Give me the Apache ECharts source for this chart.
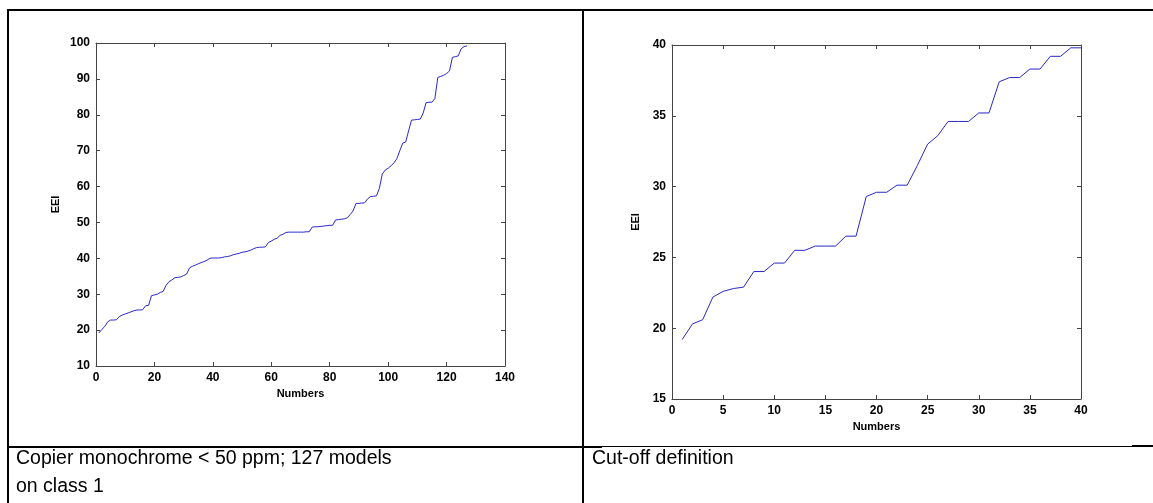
<!DOCTYPE html>
<html>
<head>
<meta charset="utf-8">
<title>EEI</title>
<script src="https://cdn.jsdelivr.net/npm/echarts@6/dist/echarts.min.js"></script>
<style>
  html, body { margin: 0; padding: 0; background: #fff; }
  #chartLable { width: 1153px; height: 503px; }
</style>
</head>
<body>
<div id="chartLable"></div>
<script>
// left panel: copier monochrome < 50 ppm, 127 models (EEI sorted)
var copierEEI = [
    19.2, 20.2, 21.0, 22.3, 22.8, 22.8, 22.9, 23.8, 24.2, 24.5,
    24.8, 25.1, 25.4, 25.6, 25.6, 25.7, 26.8, 26.9, 29.6, 29.8,
    30.0, 30.5, 30.8, 32.5, 33.5, 34.0, 34.6, 34.7, 34.8, 35.2,
    35.6, 37.3, 37.8, 38.1, 38.5, 38.8, 39.1, 39.5, 40.0, 40.1,
    40.1, 40.1, 40.2, 40.4, 40.5, 40.7, 41.0, 41.2, 41.4, 41.7,
    41.8, 42.0, 42.3, 42.7, 43.0, 43.1, 43.1, 43.2, 44.4, 44.8,
    45.3, 45.6, 46.4, 46.7, 47.2, 47.3, 47.3, 47.3, 47.3, 47.3,
    47.3, 47.4, 47.4, 48.7, 48.8, 48.8, 48.9, 49.0, 49.1, 49.2,
    49.2, 50.7, 50.8, 50.9, 51.0, 51.3, 52.2, 53.2, 55.3, 55.3,
    55.4, 55.5, 56.6, 57.2, 57.3, 57.4, 59.5, 63.5, 64.6, 65.1,
    65.8, 66.6, 67.8, 70.0, 72.1, 72.4, 75.5, 78.5, 78.6, 78.7,
    78.8, 80.5, 83.4, 83.5, 83.5, 84.5, 90.4, 90.7, 91.0, 91.5,
    92.2, 96.0, 96.2, 96.4, 98.4, 99.0, 99.2
];

// right panel: cut-off definition, first 40 models
var cutoffEEI = [
    19.2, 20.3, 20.6, 22.2, 22.6, 22.8, 22.9, 24.0, 24.0, 24.6,
    24.6, 25.5, 25.5, 25.8, 25.8, 25.8, 26.5, 26.5, 29.3, 29.6,
    29.6, 30.1, 30.1, 31.5, 33.0, 33.6, 34.6, 34.6, 34.6, 35.2,
    35.2, 37.4, 37.7, 37.7, 38.3, 38.3, 39.2, 39.2, 39.8, 39.8
];

var leftXTicks = [0, 140, 20];    // min, max, interval
var leftYTicks = [10, 100, 10];
var rightXTicks = [0, 40, 5];
var rightYTicks = [15, 40, 5];

var captionLeft = ['Copier monochrome < 50 ppm; 127 models', 'on class 1'];
var captionRight = 'Cut-off definition';

function toPairs(arr) {
    var out = [];
    for (var i = 0; i < arr.length; i++) {
        out.push([i + 1, arr[i]]);
    }
    return out;
}

var frameColor = '#444';
var labelFont = { color: '#000', fontWeight: 'bold', fontSize: 12, fontFamily: 'Liberation Sans, Arial, sans-serif' };
var nameFont = { color: '#000', fontWeight: 'bold', fontSize: 11, fontFamily: 'Liberation Sans, Arial, sans-serif' };
var captionFont = '19.5px "Liberation Sans", Arial, sans-serif';

function mainAxis(ticks, grid, pos, name, gap) {
    return {
        type: 'value', gridIndex: grid, position: pos,
        min: ticks[0], max: ticks[1], interval: ticks[2],
        name: name, nameLocation: 'middle', nameGap: gap, nameTextStyle: nameFont,
        axisLine: { show: true, onZero: false, lineStyle: { color: frameColor, width: 1 } },
        axisTick: { show: true, inside: true, length: 4, lineStyle: { color: frameColor } },
        axisLabel: Object.assign({ margin: 6 }, labelFont),
        splitLine: { show: false }
    };
}

// mirror axes for the box (ticks only)
function boxAxis(ticks, grid, pos) {
    return {
        type: 'value', gridIndex: grid, position: pos,
        min: ticks[0], max: ticks[1], interval: ticks[2],
        axisLine: { show: true, onZero: false, lineStyle: { color: frameColor, width: 1 } },
        axisTick: { show: true, inside: true, length: 4, lineStyle: { color: frameColor } },
        axisLabel: { show: false },
        splitLine: { show: false }
    };
}

var chartElm = document.getElementById('chartLable');
var myChart = echarts.init(chartElm, null, { renderer: 'canvas' });

var option = {
    backgroundColor: '#fff',
    animation: false,
    grid: [
        { left: 96, top: 43, width: 409, height: 323 },
        { left: 672, top: 45, width: 409, height: 354 }
    ],
    xAxis: [
        mainAxis(leftXTicks, 0, 'bottom', 'Numbers', 22),
        boxAxis(leftXTicks, 0, 'top'),
        mainAxis(rightXTicks, 1, 'bottom', 'Numbers', 22),
        boxAxis(rightXTicks, 1, 'top')
    ],
    yAxis: [
        mainAxis(leftYTicks, 0, 'left', 'EEI', 35),
        boxAxis(leftYTicks, 0, 'right'),
        mainAxis(rightYTicks, 1, 'left', 'EEI', 31),
        boxAxis(rightYTicks, 1, 'right')
    ],
    series: [
        {
            type: 'line', xAxisIndex: 0, yAxisIndex: 0,
            data: toPairs(copierEEI),
            showSymbol: false,
            lineStyle: { color: '#2828c8', width: 1 }
        },
        {
            type: 'line', xAxisIndex: 2, yAxisIndex: 2,
            data: toPairs(cutoffEEI),
            showSymbol: false,
            lineStyle: { color: '#2828c8', width: 1 }
        }
    ],
    graphic: [
        // table rules
        { type: 'line', shape: { x1: 7, y1: 10, x2: 1153, y2: 10 }, style: { stroke: '#000', lineWidth: 2 } },
        { type: 'line', shape: { x1: 8, y1: 9, x2: 8, y2: 503 }, style: { stroke: '#000', lineWidth: 2 } },
        { type: 'line', shape: { x1: 583, y1: 9, x2: 583, y2: 503 }, style: { stroke: '#000', lineWidth: 2 } },
        { type: 'line', shape: { x1: 7, y1: 447, x2: 602, y2: 447 }, style: { stroke: '#000', lineWidth: 2 } },
        { type: 'line', shape: { x1: 602, y1: 446.5, x2: 1132, y2: 446.5 }, style: { stroke: '#000', lineWidth: 1 } },
        { type: 'line', shape: { x1: 1132, y1: 446, x2: 1153, y2: 446 }, style: { stroke: '#000', lineWidth: 2 } },
        // captions
        { type: 'text', left: 16, top: 449, style: { text: captionLeft[0], fill: '#000', font: captionFont } },
        { type: 'text', left: 16, top: 477, style: { text: captionLeft[1], fill: '#000', font: captionFont } },
        { type: 'text', left: 592, top: 449, style: { text: captionRight, fill: '#000', font: captionFont } }
    ]
};

myChart.setOption(option);
</script>
</body>
</html>
